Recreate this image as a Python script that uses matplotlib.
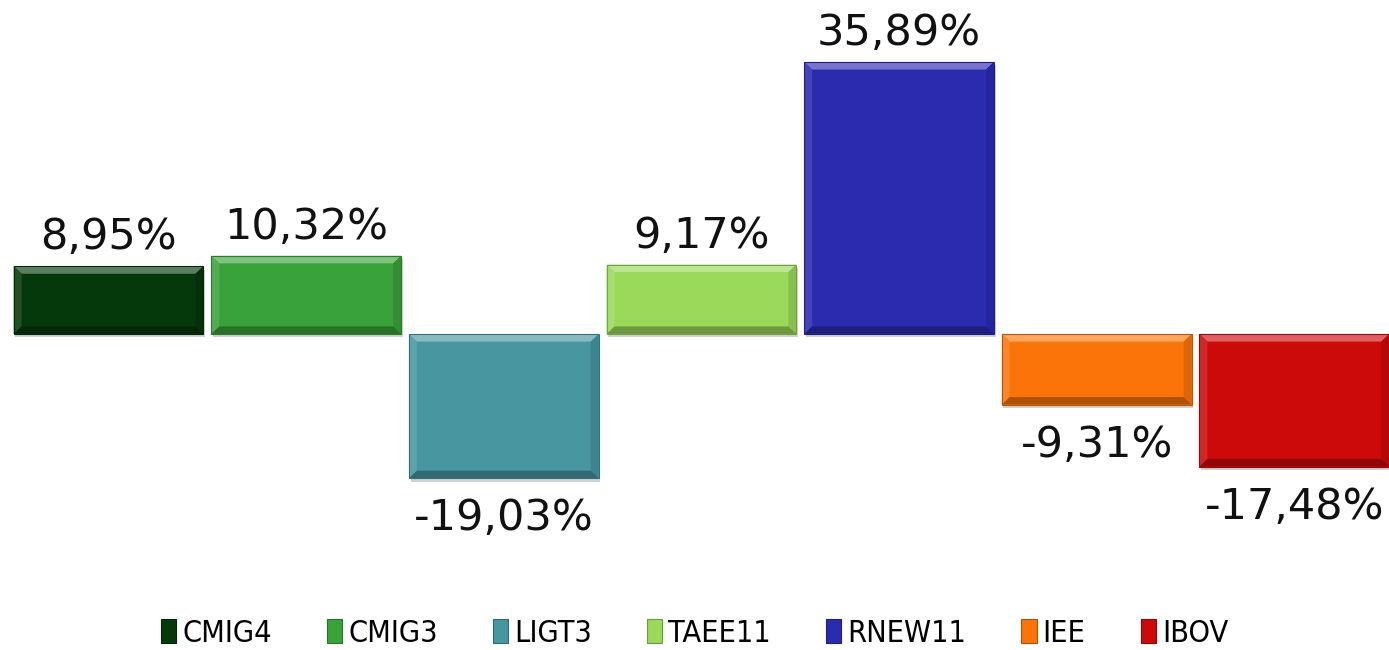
import matplotlib
matplotlib.use("Agg")
import matplotlib.pyplot as plt
from matplotlib.patches import Polygon, Rectangle
from matplotlib import font_manager
import matplotlib.colors as mcolors

# data
tickers = ["CMIG4", "CMIG3", "LIGT3", "TAEE11", "RNEW11", "IEE", "IBOV"]
returns = [8.95, 10.32, -19.03, 9.17, 35.89, -9.31, -17.48]
colors = ["#05380A", "#3AA23A", "#4796A0", "#9AD95A", "#2B2BB0", "#FA7409", "#CC0A0A"]

installed = {f.name for f in font_manager.fontManager.ttflist}
legend_font = "Liberation Sans Narrow" if "Liberation Sans Narrow" in installed else "DejaVu Sans"


def shade(c, f):
    # f > 0 lighten towards white, f < 0 darken towards black
    r, g, b = mcolors.to_rgb(c)
    if f >= 0:
        return (r + (1 - r) * f, g + (1 - g) * f, b + (1 - b) * f)
    return (r * (1 + f), g * (1 + f), b * (1 + f))


fig = plt.figure(figsize=(13.89, 6.5), dpi=100)
ax = fig.add_axes([0.007, 0.1946, 0.996, 0.758])

bars = ax.bar(range(len(tickers)), returns, width=0.96, color=colors,
              edgecolor="none", zorder=2)

# bevel look: lighter top/left, darker bottom/right
bx, by = 0.04, 1.0
for rect, c in zip(bars, colors):
    x0, w = rect.get_x(), rect.get_width()
    y0, h = rect.get_y(), rect.get_height()
    x1 = x0 + w
    ylo, yhi = min(y0, y0 + h), max(y0, y0 + h)
    # soft shadow
    ax.add_patch(Rectangle((x0 + 0.008, ylo - 0.45), w, yhi - ylo,
                           color="#000000", alpha=0.18, lw=0, zorder=1))
    top = [(x0, yhi), (x1, yhi), (x1 - bx, yhi - by), (x0 + bx, yhi - by)]
    bot = [(x0, ylo), (x1, ylo), (x1 - bx, ylo + by), (x0 + bx, ylo + by)]
    left = [(x0, ylo), (x0, yhi), (x0 + bx, yhi - by), (x0 + bx, ylo + by)]
    right = [(x1, ylo), (x1, yhi), (x1 - bx, yhi - by), (x1 - bx, ylo + by)]
    ax.add_patch(Polygon(top, closed=True, color=shade(c, 0.35), lw=0, zorder=3))
    ax.add_patch(Polygon(left, closed=True, color=shade(c, 0.12), lw=0, zorder=3))
    ax.add_patch(Polygon(right, closed=True, color=shade(c, -0.12), lw=0, zorder=3))
    ax.add_patch(Polygon(bot, closed=True, color=shade(c, -0.3), lw=0, zorder=3))
    ax.add_patch(Rectangle((x0, ylo), w, yhi - ylo, fill=False,
                           edgecolor=shade(c, -0.25), lw=0.8, zorder=4))

for i, v in enumerate(returns):
    label = f"{v:.2f}%".replace(".", ",")
    if v >= 0:
        ax.annotate(label, (i, v), xytext=(0, 8), textcoords="offset pixels",
                    ha="center", va="bottom", fontsize=31, color="#111111")
    else:
        ax.annotate(label, (i, v), xytext=(0, -19), textcoords="offset pixels",
                    ha="center", va="top", fontsize=31, color="#111111")

ax.set_xlim(-0.5, len(tickers) - 0.5)
ax.set_ylim(-25, 40)
ax.axis("off")

handles = [Rectangle((0, 0), 1, 1, facecolor=c, edgecolor=shade(c, -0.3), lw=0.8)
           for c in colors]
fig.legend(handles, tickers, loc="center", bbox_to_anchor=(0.5, 0.026), ncol=7,
           frameon=False, handlelength=0.5, handleheight=0.8, handletextpad=0.2,
           columnspacing=1.8, prop={"family": legend_font, "size": 22,
                                    "stretch": "condensed"})

fig.savefig("out.png", dpi=100)
